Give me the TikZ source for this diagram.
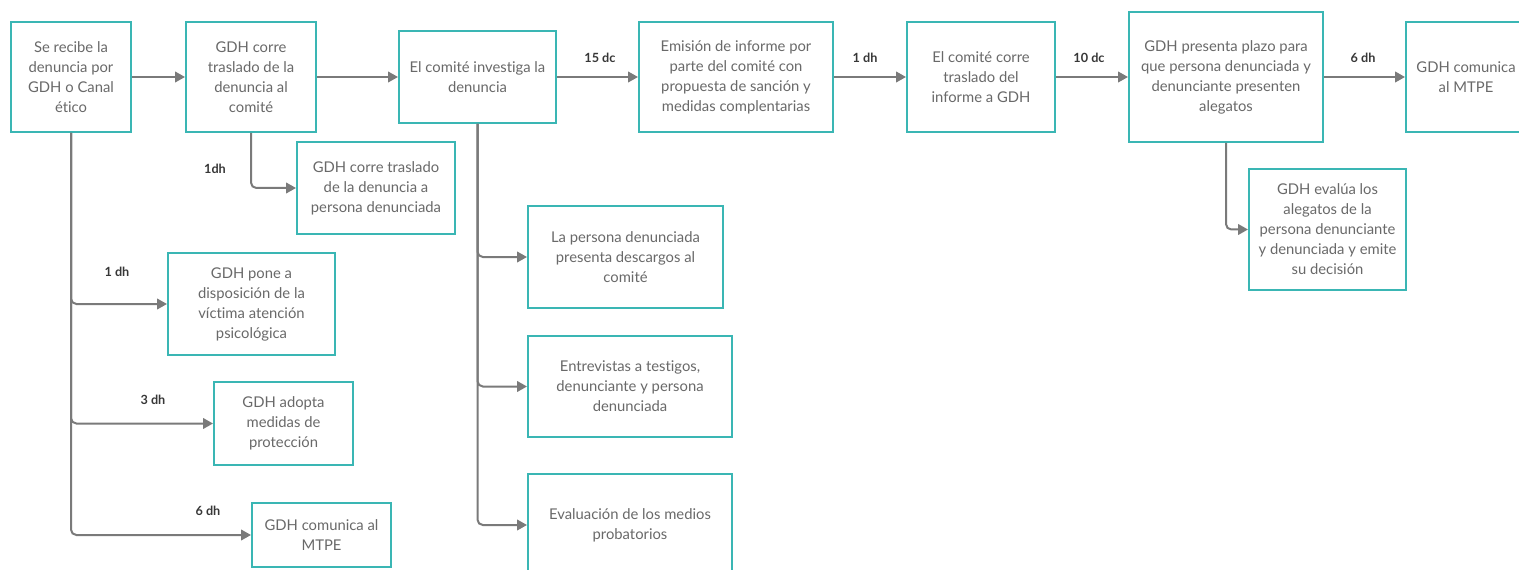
\documentclass[tikz,border=0pt]{standalone}
\usepackage{fontspec}
\setmainfont{Lato}[Ligatures={NoCommon}]
\usetikzlibrary{arrows.meta}
\definecolor{boxteal}{RGB}{58,182,180}
\definecolor{txtgray}{RGB}{105,105,105}
\definecolor{linegray}{RGB}{122,122,122}
\definecolor{lblgray}{RGB}{55,55,55}
\tikzset{
  box/.style={draw=boxteal, line width=1.5pt, fill=white, inner sep=0pt, align=center,
    text=txtgray, font=\fontsize{11.1pt}{15pt}\selectfont},
  conn/.style={draw=linegray, line width=1.5pt, -{Triangle[length=7.5pt,width=8pt]}},
  branch/.style={conn, rounded corners=4pt},
  lbl/.style={text=lblgray, font=\fontsize{9.5pt}{11pt}\selectfont\bfseries, inner sep=0pt}
}
\begin{document}
\begin{tikzpicture}[x=0.75pt,y=-0.75pt]
\useasboundingbox (0,0) rectangle (1519,570);
\begin{scope}
\clip (0,0) rectangle (1519,570);
% top row
\node[box, minimum width=120*0.75pt, minimum height=110*0.75pt] (b1) at (71,77) {Se recibe la\\denuncia por\\GDH o Canal\\ético};
\node[box, minimum width=130*0.75pt, minimum height=110*0.75pt] (b2) at (251,77) {GDH corre\\traslado de la\\denuncia al\\comité};
\node[box, minimum width=157*0.75pt, minimum height=92*0.75pt] (b3) at (477.5,77) {El comité investiga la\\denuncia};
\node[box, minimum width=194*0.75pt, minimum height=110*0.75pt] (b4) at (736,77) {Emisión de informe por\\parte del comité con\\propuesta de sanción y\\medidas complentarias};
\node[box, minimum width=148*0.75pt, minimum height=110*0.75pt] (b5) at (981,77) {El comité corre\\traslado del\\informe a GDH};
\node[box, minimum width=194*0.75pt, minimum height=130*0.75pt] (b6) at (1226,77) {GDH presenta plazo para\\que persona denunciada y\\denunciante presenten\\alegatos};
\node[box, minimum width=120*0.75pt, minimum height=110*0.75pt] (b7) at (1466,77) {GDH comunica\\al MTPE};
\node[box, minimum width=157*0.75pt, minimum height=121*0.75pt] (b8) at (1327.5,229.5) {GDH evalúa los\\alegatos de la\\persona denunciante\\y denunciada y emite\\su decisión};
% branch of b2
\node[box, minimum width=158*0.75pt, minimum height=92*0.75pt] (c1) at (376,188) {GDH corre traslado\\de la denuncia a\\persona denunciada};
% branch of b1
\node[box, minimum width=167*0.75pt, minimum height=102*0.75pt] (d1) at (251.5,304) {GDH pone a\\disposición de la\\víctima atención\\psicológica};
\node[box, minimum width=139*0.75pt, minimum height=83*0.75pt] (d2) at (283.5,423.5) {GDH adopta\\medidas de\\protección};
\node[box, minimum width=139*0.75pt, minimum height=64*0.75pt] (d3) at (321.5,535) {GDH comunica al\\MTPE};
% branch of b3
\node[box, minimum width=195*0.75pt, minimum height=102*0.75pt] (e1) at (625.5,257) {La persona denunciada\\presenta descargos al\\comité};
\node[box, minimum width=204*0.75pt, minimum height=101*0.75pt] (e2) at (630,386.5) {Entrevistas a testigos,\\denunciante y persona\\denunciada};
\node[box, minimum width=204*0.75pt, minimum height=102*0.75pt] (e3) at (630,525) {Evaluación de los medios\\probatorios};
\end{scope}
% top connectors
\draw[conn] (b1.east) -- (b2.west);
\draw[conn] (b2.east) -- (b3.west);
\draw[conn] (b3.east) -- (b4.west);
\draw[conn] (b4.east) -- (b5.west);
\draw[conn] (b5.east) -- (b6.west);
\draw[conn] (b6.east) -- (b7.west);
% branches
\draw[branch] (b2.south) |- (c1.west);
\draw[branch] (b1.south) |- (d1.west);
\draw[branch] (b1.south) |- (d2.west);
\draw[branch] (b1.south) |- (d3.west);
\draw[branch] (b3.south) |- (e1.west);
\draw[branch] (b3.south) |- (e2.west);
\draw[branch] (b3.south) |- (e3.west);
\draw[branch] (b6.south) |- (b8.west);
% labels
\node[lbl] (l1) at (600,58) {15 dc};
\node[lbl] (l2) at (865,58) {1 dh};
\node[lbl] (l3) at (1089,58) {10 dc};
\node[lbl] (l4) at (1363,58) {6 dh};
\node[lbl] (l5) at (215,169) {1dh};
\node[lbl] (l6) at (117,272) {1 dh};
\node[lbl] (l7) at (153,400) {3 dh};
\node[lbl] (l8) at (208,511) {6 dh};
\end{tikzpicture}
\end{document}
